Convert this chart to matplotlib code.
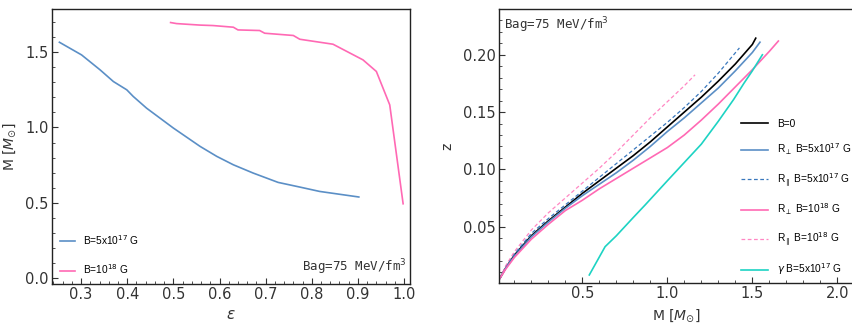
import matplotlib
matplotlib.use("Agg")
import matplotlib.pyplot as plt
from matplotlib.ticker import MultipleLocator

# left panel: M vs epsilon
eps_b5 = [0.253, 0.301, 0.341, 0.370, 0.399, 0.413, 0.442, 0.471, 0.500, 0.558, 0.594, 0.630, 0.673, 0.727, 0.774, 0.817, 0.902]
m_b5 = [1.566, 1.482, 1.383, 1.305, 1.250, 1.206, 1.128, 1.062, 0.996, 0.874, 0.808, 0.752, 0.697, 0.635, 0.604, 0.575, 0.538]
eps_b10 = [0.494, 0.507, 0.558, 0.586, 0.630, 0.640, 0.687, 0.698, 0.760, 0.774, 0.846, 0.911, 0.940, 0.969, 0.998]
m_b10 = [1.697, 1.690, 1.680, 1.677, 1.666, 1.648, 1.644, 1.626, 1.611, 1.586, 1.553, 1.449, 1.372, 1.150, 0.493]

# right panel: z vs M
m_b0 = [0.016, 0.05, 0.10, 0.20, 0.30, 0.40, 0.50, 0.60, 0.70, 0.80, 0.90, 1.00, 1.10, 1.20, 1.30, 1.40, 1.50, 1.52]
z_b0 = [0.005, 0.014, 0.025, 0.042, 0.055, 0.067, 0.079, 0.090, 0.101, 0.112, 0.124, 0.137, 0.150, 0.163, 0.177, 0.192, 0.209, 0.2145]
m_perp5 = [0.016, 0.05, 0.10, 0.20, 0.30, 0.40, 0.50, 0.60, 0.70, 0.80, 0.90, 1.00, 1.10, 1.20, 1.30, 1.40, 1.50, 1.545]
z_perp5 = [0.005, 0.014, 0.024, 0.041, 0.054, 0.066, 0.077, 0.087, 0.097, 0.108, 0.120, 0.133, 0.145, 0.158, 0.171, 0.186, 0.202, 0.211]
m_par5 = [0.016, 0.05, 0.10, 0.20, 0.30, 0.40, 0.50, 0.60, 0.70, 0.80, 0.90, 1.00, 1.10, 1.20, 1.30, 1.424]
z_par5 = [0.005, 0.015, 0.026, 0.044, 0.057, 0.069, 0.081, 0.093, 0.105, 0.117, 0.129, 0.141, 0.154, 0.168, 0.184, 0.206]
m_perp10 = [0.016, 0.05, 0.10, 0.20, 0.30, 0.40, 0.50, 0.60, 0.70, 0.80, 0.90, 1.00, 1.10, 1.20, 1.30, 1.40, 1.50, 1.60, 1.653]
z_perp10 = [0.005, 0.013, 0.023, 0.039, 0.052, 0.064, 0.073, 0.083, 0.092, 0.101, 0.110, 0.119, 0.130, 0.143, 0.157, 0.172, 0.187, 0.203, 0.212]
m_par10 = [0.016, 0.05, 0.10, 0.20, 0.30, 0.40, 0.50, 0.60, 0.70, 0.80, 0.90, 1.00, 1.10, 1.163]
z_par10 = [0.005, 0.016, 0.028, 0.047, 0.062, 0.075, 0.088, 0.101, 0.115, 0.130, 0.145, 0.159, 0.173, 0.1825]
m_gamma = [0.541, 0.634, 0.70, 0.80, 0.87, 1.00, 1.10, 1.20, 1.30, 1.39, 1.45, 1.50, 1.559]
z_gamma = [0.0078, 0.0325, 0.042, 0.058, 0.069, 0.090, 0.106, 0.122, 0.142, 0.161, 0.175, 0.186, 0.200]

c_blue = '#5b8fc6'
c_blue_d = '#3a78bd'
c_pink = '#ff69b4'
c_teal = '#1dd3c3'
c_text = '#333333'

fig = plt.figure(figsize=(8.53, 3.27), dpi=100)
ax1 = fig.add_axes([0.061, 0.1315, 0.4197, 0.841])
ax2 = fig.add_axes([0.585, 0.1346, 0.4146, 0.838])


def style(ax):
    ax.tick_params(which='both', direction='in', top=False, right=False, colors=c_text,
                   labelsize=10.5, pad=2.5)
    ax.tick_params(which='major', length=4, width=0.8)
    ax.tick_params(which='minor', length=2, width=0.6)
    for s in ax.spines.values():
        s.set_linewidth(1.0)
        s.set_color('#222222')


leg_font = {'family': 'Liberation Sans', 'size': 7.3}

ax1.plot(eps_b5, m_b5, color=c_blue, lw=1.2, label=r'B=5x10$^{17}$ G')
ax1.plot(eps_b10, m_b10, color=c_pink, lw=1.2, label=r'B=10$^{18}$ G')
ax1.set_xlim(0.237, 1.013)
ax1.set_ylim(-0.04, 1.787)
ax1.set_xticks([0.3, 0.4, 0.5, 0.6, 0.7, 0.8, 0.9, 1.0])
ax1.set_yticks([0.0, 0.5, 1.0, 1.5])
ax1.xaxis.set_minor_locator(MultipleLocator(0.02))
ax1.yaxis.set_minor_locator(MultipleLocator(0.1))
style(ax1)
ax1.set_xlabel(r'$\epsilon$', fontsize=11, color=c_text, labelpad=3)
ax1.set_ylabel(r'M [$M_{\odot}$]', fontsize=10, color=c_text, labelpad=5)
ax1.legend(loc='lower left', frameon=False, prop=leg_font, labelspacing=1.55,
           handlelength=1.5, handletextpad=0.8, borderaxespad=0.35)
ax1.text(0.99, 0.025, r'Bag=75 MeV/fm$^3$', transform=ax1.transAxes, ha='right', va='bottom',
         fontsize=9, family='DejaVu Sans Mono', color=c_text)

ax2.plot(m_b0, z_b0, color='black', lw=1.2, label='B=0')
ax2.plot(m_perp5, z_perp5, color=c_blue, lw=1.2, label=r'R$_{\perp}$ B=5x10$^{17}$ G')
ax2.plot(m_par5, z_par5, color=c_blue_d, lw=0.9, ls=(0, (3, 2)), label=r'R$_{\parallel}$ B=5x10$^{17}$ G')
ax2.plot(m_perp10, z_perp10, color=c_pink, lw=1.2, label=r'R$_{\perp}$ B=10$^{18}$ G')
ax2.plot(m_par10, z_par10, color=c_pink, lw=0.9, ls=(0, (3, 2)), alpha=0.8, label=r'R$_{\parallel}$ B=10$^{18}$ G')
ax2.plot(m_gamma, z_gamma, color=c_teal, lw=1.2, label=r'$\gamma$ B=5x10$^{17}$ G')
ax2.set_xlim(0.01, 2.09)
ax2.set_ylim(0.0008, 0.240)
ax2.set_xticks([0.5, 1.0, 1.5, 2.0])
ax2.set_yticks([0.05, 0.10, 0.15, 0.20])
ax2.set_yticklabels(['0.05', '0.10', '0.15', '0.20'])
ax2.xaxis.set_minor_locator(MultipleLocator(0.1))
ax2.yaxis.set_minor_locator(MultipleLocator(0.01))
style(ax2)
ax2.set_xlabel(r'M [$M_{\odot}$]', fontsize=10, color=c_text, labelpad=4)
ax2.set_ylabel('z', fontsize=10, color=c_text, labelpad=6)
ax2.legend(loc='upper left', bbox_to_anchor=(0.684, 0.60), frameon=False, prop=leg_font,
           labelspacing=1.3, handlelength=2.7, handletextpad=0.85, borderaxespad=0, borderpad=0)
ax2.text(0.015, 0.975, r'Bag=75 MeV/fm$^3$', transform=ax2.transAxes, ha='left', va='top',
         fontsize=9, family='DejaVu Sans Mono', color=c_text)

fig.savefig('out.png', dpi=100)
